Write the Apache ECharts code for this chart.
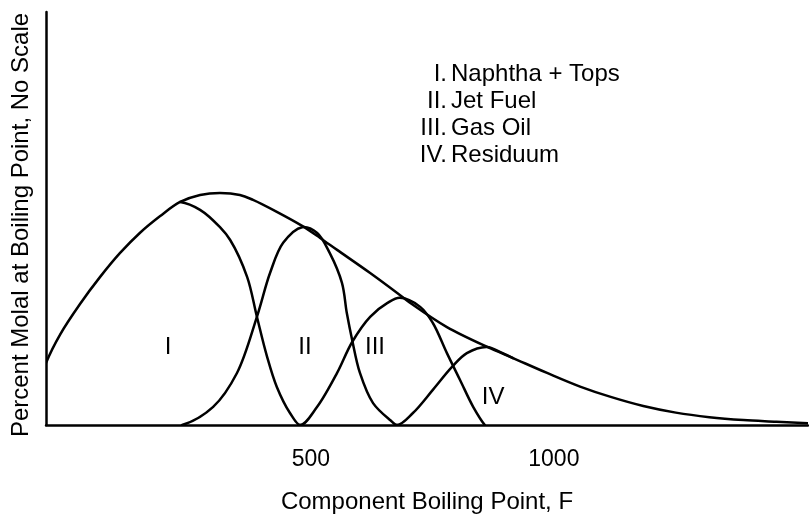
<!DOCTYPE html>
<html>
<head>
<meta charset="utf-8">
<script src="https://cdn.jsdelivr.net/npm/echarts@6/dist/echarts.min.js"></script>
<style>
  html, body { margin: 0; padding: 0; background: #fff; }
  #chart { width: 809px; height: 514px; }
</style>
</head>
<body>
<div id="chart"></div>
<script>
// ---- Data (x: component boiling point, F; y: percent molal, no scale) ----
// Total crude curve (its rising part is also the rising part of fraction I)
const envelope = [[-45,15.0],[-16,21.9],[25,29.3],[66,35.8],[107,41.6],[148,46.5],[190,50.6],[231,54.0],[272,55.7],[313,56.2],[354,55.7],[381,54.5],[430,51.6],[482,48.2],[519,45.3],[554,42.4],[622,36.8],[683,31.5],[710,29.1],[780,23.7],[863,18.9],[916,16.2],[986,12.6],[1054,9.3],[1117,6.8],[1184,4.6],[1251,3.0],[1320,1.9],[1390,1.2],[1458,0.8],[1523,0.4]];
// Fraction I, falling branch (leaves the total curve at its peak)
const naphthaFalling = [[231,54.0],[272,52.1],[313,47.9],[334,44.8],[369,35.8],[389,26.2],[410,16.5],[430,9.2],[457,2.9],[478,0]];
const jetFuel = [[235,0],[299,4.4],[348,12.6],[389,26.2],[416,36.8],[443,44.1],[482,47.9],[513,46.5],[539,41.6],[564,34.4],[574,27.1],[585,20.6],[601,12.6],[628,5.3],[663,1.2],[677,0]];
const gasOil = [[478,0],[513,4.4],[554,12.6],[585,20.1],[622,26.2],[657,29.5],[683,30.8],[725,28.6],[751,24.7],[780,17.4],[807,10.9],[834,4.4],[858,0]];
const residuum = [[677,0],[710,2.9],[751,8.5],[790,14.0],[821,17.4],[863,18.9],[889,17.7],[916,16.2]];

const xTickValues = [500, 1000];
const regionLabels = ['I', 'II', 'III', 'IV'];
const regionLabelAt = [[206,18.9],[488,18.9],[632,18.9],[875,6.8]];
const legendNumerals = ['I.', 'II.', 'III.', 'IV.'];
const legendNames = ['Naphtha + Tops', 'Jet Fuel', 'Gas Oil', 'Residuum'];
const xTitle = 'Component Boiling Point, F';
const yTitle = 'Percent Molal at Boiling Point, No Scale';

// ---- Chart ----
const FONT = '"Liberation Sans", Arial, Helvetica, sans-serif';
const chart = echarts.init(document.getElementById('chart'), null, { renderer: 'canvas' });

// Centripetal Catmull-Rom through the (already projected) points, as cubic Beziers.
function smoothPath(p, flatStart, flatEnd) {
  const n = p.length;
  const dist = (a, b) => Math.max(1e-6, Math.sqrt(Math.hypot(b[0] - a[0], b[1] - a[1])));
  const ext = (a, b, c) => [0, 1].map(k => 3 * a[k] - 3 * b[k] + c[k]);
  let d = 'M' + p[0][0] + ',' + p[0][1];
  for (let i = 0; i < n - 1; i++) {
    const p1 = p[i], p2 = p[i + 1];
    let p0, p3;
    if (i > 0) p0 = p[i - 1];
    else if (flatStart) p0 = [2 * p1[0] - p2[0], p2[1]];
    else p0 = n > 2 ? ext(p[0], p[1], p[2]) : [2 * p1[0] - p2[0], 2 * p1[1] - p2[1]];
    if (i < n - 2) p3 = p[i + 2];
    else if (flatEnd) p3 = [2 * p2[0] - p1[0], p1[1]];
    else p3 = n > 2 ? ext(p[n - 1], p[n - 2], p[n - 3]) : [2 * p2[0] - p1[0], 2 * p2[1] - p1[1]];
    const d1 = dist(p0, p1), d2 = dist(p1, p2), d3 = dist(p2, p3);
    const c1 = [0, 1].map(k => (d1 * d1 * p2[k] - d2 * d2 * p0[k] + (2 * d1 * d1 + 3 * d1 * d2 + d2 * d2) * p1[k]) / (3 * d1 * (d1 + d2)));
    const c2 = [0, 1].map(k => (d3 * d3 * p1[k] - d2 * d2 * p3[k] + (2 * d3 * d3 + 3 * d3 * d2 + d2 * d2) * p2[k]) / (3 * d3 * (d3 + d2)));
    d += ' C' + c1[0] + ',' + c1[1] + ' ' + c2[0] + ',' + c2[1] + ' ' + p2[0] + ',' + p2[1];
  }
  return d;
}

function curve(name, data, flatStart, flatEnd) {
  return {
    name, type: 'custom', data, silent: true, clip: true, z: 3,
    encode: { x: 0, y: 1 },
    renderItem: (params, api) => {
      if (params.dataIndex !== 0) return null;
      const px = data.map(v => api.coord(v));
      return {
        type: 'path',
        shape: { pathData: smoothPath(px, flatStart, flatEnd) },
        style: { fill: 'none', stroke: '#000', lineWidth: 2.5, lineJoin: 'round', lineCap: 'round' }
      };
    }
  };
}

const graphic = [];
legendNumerals.forEach((n, i) => {
  graphic.push({ type: 'text', x: 447, y: 74 + i * 27.2,
    style: { text: n, font: '24px ' + FONT, fill: '#000', textAlign: 'right', textVerticalAlign: 'middle' } });
  graphic.push({ type: 'text', x: 451, y: 74 + i * 27.2,
    style: { text: legendNames[i], font: '24px ' + FONT, fill: '#000', textAlign: 'left', textVerticalAlign: 'middle' } });
});
graphic.push({ type: 'text', x: 21.5, y: 225, rotation: Math.PI / 2,
  style: { text: yTitle, font: '24px ' + FONT, fill: '#000', textAlign: 'center', textVerticalAlign: 'middle' } });

chart.setOption({
  animation: false,
  backgroundColor: '#fff',
  grid: { left: 46, right: 1, top: 12, bottom: 89, containLabel: false, outerBoundsMode: 'none' },
  xAxis: {
    type: 'value', min: -45, max: 1523,
    axisLine: { show: true, onZero: false, lineStyle: { color: '#000', width: 2.5 } },
    axisTick: { show: false },
    splitLine: { show: false },
    axisLabel: { customValues: xTickValues, formatter: v => String(v),
      color: '#000', fontSize: 23, fontFamily: FONT, margin: 23.5 },
    name: xTitle, nameLocation: 'middle', nameGap: 65.5,
    nameTextStyle: { color: '#000', fontSize: 24, fontFamily: FONT }
  },
  yAxis: {
    type: 'value', min: 0, max: 100,
    axisLine: { show: true, onZero: false, lineStyle: { color: '#000', width: 2.5 } },
    axisTick: { show: false },
    splitLine: { show: false },
    axisLabel: { show: false }
  },
  graphic,
  series: [
    curve('Total', envelope, false, false),
    curve('I. Naphtha + Tops', naphthaFalling, false, true),
    curve('II. Jet Fuel', jetFuel, false, true),
    curve('III. Gas Oil', gasOil, true, false),
    curve('IV. Residuum', residuum, true, false),
    {
      name: 'Region labels', type: 'scatter', symbolSize: 0, silent: true, z: 5,
      itemStyle: { opacity: 1 },
      data: regionLabels.map((t, i) => ({ name: t, value: regionLabelAt[i] })),
      label: { show: true, position: 'inside', formatter: p => p.name, opacity: 1,
        color: '#000', fontSize: 24, fontFamily: FONT }
    }
  ]
});
</script>
</body>
</html>
